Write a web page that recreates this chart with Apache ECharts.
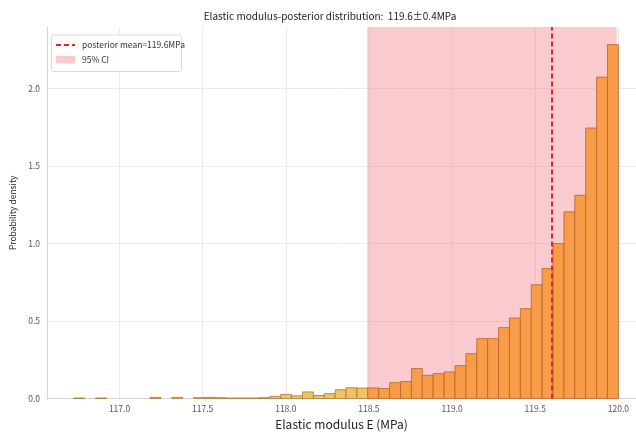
<!DOCTYPE html>
<html><head><meta charset="utf-8">
<script src="https://cdn.jsdelivr.net/npm/echarts@6/dist/echarts.min.js"></script>
<style>html,body{margin:0;padding:0;background:#fff}#c{width:636px;height:435px}</style>
</head><body><div id="c"></div>
<script>
// histogram bins
const binStart = 116.725;
const binWidth = 0.0655;
const densities = [
  0.004, 0, 0.004, 0, 0, 0, 0, 0.008, 0, 0.008, 0, 0.006, 0.008, 0.006,
  0.004, 0.004, 0.004, 0.006, 0.015, 0.027, 0.018, 0.043, 0.02, 0.032, 0.057, 0.07, 0.068,
  0.069, 0.065, 0.103, 0.11, 0.194, 0.15, 0.161, 0.172, 0.213, 0.29, 0.387, 0.387,
  0.458, 0.52, 0.58, 0.735, 0.84, 1.0, 1.205, 1.312, 1.746, 2.075, 2.284
];
const posteriorMean = 119.6;
const ciLow = 118.49;
const ciHigh = 119.99;
const xTicks = [117.0, 117.5, 118.0, 118.5, 119.0, 119.5, 120.0];
const yTicks = [0, 0.5, 1.0, 1.5, 2.0];
const titleText = 'Elastic modulus-posterior distribution:  119.6\u00b10.4MPa';
const xName = 'Elastic modulus E (MPa)';
const yName = 'Probability density';
const meanLabel = 'posterior mean=119.6MPa';
const ciLabel = '95% CI';

const FONT = '"Noto Sans CJK SC", "Noto Sans", sans-serif';
const histData = densities.map((d, i) => {
  const l = binStart + i * binWidth, r = l + binWidth;
  const c = (l + r) / 2;
  return [l, r, d, (c >= ciLow && c <= ciHigh) ? 1 : 0];
});

const chart = echarts.init(document.getElementById('c'), null, {renderer: 'canvas'});
chart.setOption({
  animation: false,
  backgroundColor: '#fff',
  grid: {left: 47, right: 0, top: 27, bottom: 35.5},
  xAxis: {
    type: 'value', min: 116.564, max: 120.106,
    axisLine: {show: true, lineStyle: {color: '#d4d4d4', width: 1}},
    axisTick: {show: false, customValues: xTicks},
    axisLabel: {customValues: xTicks, formatter: v => v.toFixed(1), color: '#555', fontSize: 8.5, margin: 6, fontFamily: FONT},
    splitLine: {show: true, lineStyle: {color: '#e6e6e6', width: 0.8}},
    name: xName, nameLocation: 'middle', nameGap: 18,
    nameTextStyle: {color: '#222', fontSize: 12, fontFamily: FONT}
  },
  yAxis: {
    type: 'value', min: 0, max: 2.398,
    axisLine: {show: true, lineStyle: {color: '#d4d4d4', width: 1}},
    axisTick: {show: false, customValues: yTicks},
    axisLabel: {customValues: yTicks, formatter: v => v.toFixed(1), color: '#555', fontSize: 8.5, margin: 7, fontFamily: FONT},
    splitLine: {show: true, lineStyle: {color: '#e6e6e6', width: 0.8}},
    name: yName, nameLocation: 'middle', nameGap: 23, nameRotate: 90,
    nameTextStyle: {color: '#222', fontSize: 8.5, fontFamily: FONT}
  },
  series: [
    {
      type: 'line', data: [], z: 1, silent: true,
      markArea: {
        silent: true,
        itemStyle: {color: 'rgba(240,110,120,0.36)'},
        data: [[{xAxis: ciLow}, {xAxis: ciHigh}]]
      }
    },
    {
      type: 'custom', z: 2,
      data: histData,
      encode: {x: [0, 1], y: 2},
      renderItem: (params, api) => {
        const l = api.value(0), r = api.value(1), h = api.value(2), inCI = api.value(3);
        if (h <= 0) return null;
        const p0 = api.coord([l, 0]);
        const p1 = api.coord([r, h]);
        return {
          type: 'rect',
          shape: {x: p0[0], y: p1[1], width: p1[0] - p0[0], height: p0[1] - p1[1]},
          style: {fill: inCI ? '#f89c48' : '#f2c261', stroke: inCI ? '#b5652c' : '#a27a3a', lineWidth: 0.8}
        };
      }
    },
    {
      type: 'line', data: [], z: 3, silent: true,
      markLine: {
        silent: true, symbol: 'none', label: {show: false},
        lineStyle: {color: '#e0262a', type: [5, 3], width: 2},
        data: [{xAxis: posteriorMean}]
      }
    }
  ],
  graphic: [
    {type: 'text', x: 330, y: 16, style: {text: titleText, textAlign: 'center', textVerticalAlign: 'middle', fill: '#222', fontSize: 10, fontFamily: FONT}},
    {type: 'rect', shape: {x: 51.5, y: 35, width: 130, height: 36.5, r: 2}, style: {fill: 'rgba(255,255,255,0.85)', stroke: '#dcdcdc', lineWidth: 1}, z: 10},
    {type: 'line', shape: {x1: 56, y1: 45, x2: 75, y2: 45}, style: {stroke: '#e0262a', lineWidth: 2, lineDash: [5, 3]}, z: 11},
    {type: 'rect', shape: {x: 56, y: 56, width: 19, height: 7.5}, style: {fill: 'rgba(240,110,120,0.36)'}, z: 11},
    {type: 'text', x: 82, y: 45, style: {text: meanLabel, textVerticalAlign: 'middle', fill: '#333', fontSize: 8.5, fontFamily: FONT}, z: 11},
    {type: 'text', x: 82, y: 59.5, style: {text: ciLabel, textVerticalAlign: 'middle', fill: '#333', fontSize: 8.5, fontFamily: FONT}, z: 11}
  ]
});
</script></body></html>
